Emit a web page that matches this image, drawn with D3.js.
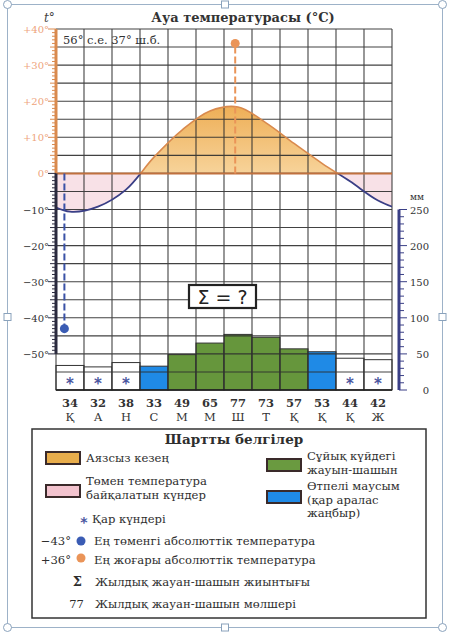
<!DOCTYPE html>
<html>
<head>
<meta charset="utf-8">
<script src="https://cdn.jsdelivr.net/npm/d3@7"></script>
<style>
  html, body { margin: 0; padding: 0; background: #fff; }
  svg { display: block; }
</style>
</head>
<body>
<svg id="chart" width="449" height="632"></svg>
<script>
// ========= Data =========
const months = ["Қ", "А", "Н", "С", "М", "М", "Ш", "Т", "Қ", "Қ", "Қ", "Ж"];
const temps = [-10.6, -9.2, -4.5, 4.5, 12, 17.3, 18.4, 14.0, 8.3, 2.8, -2.2, -7.5];
const precip = [34, 32, 38, 33, 49, 65, 77, 73, 57, 53, 44, 42];
// s = snow, m = mixed (transition), r = rain
const precipType = ["s", "s", "s", "m", "r", "r", "r", "r", "r", "m", "s", "s"];
const tempTicks = [40, 30, 20, 10, 0, -10, -20, -30, -40, -50];
const precipTicks = [0, 50, 100, 150, 200, 250];
const absMin = { value: -43, pos: 0.3 };   // pos = month position (0..12)
const absMax = { value: 36, pos: 6.4 };

const C = {
  grid: "#2e2e2e",
  navy: "#3a3f86",
  orange: "#d98a4e",
  orangeLbl: "#eea47c",
  zero: "#c0703e",
  green: "#66963c",
  blue: "#1f8ae6",
  pink: "#f3c9d4",
  blueDot: "#3a5cb4",
  orangeDot: "#ea9458"
};

// ========= Setup =========
const svg = d3.select("#chart");
const pL = 56, pR = 392, pT = 29, pB = 390;

const x = d3.scaleBand().domain(d3.range(12)).range([pL, pR]).padding(0);
const xPos = d3.scaleLinear().domain([0, 12]).range([pL, pR]);
const y = d3.scaleLinear().domain([-60, 40]).range([pB, pT]);
const yP = d3.scaleLinear().domain([0, 250]).range([pB, y(-10)]);

const defs = svg.append("defs");
const grad = defs.append("linearGradient").attr("id", "warm")
  .attr("gradientUnits", "userSpaceOnUse")
  .attr("x1", 0).attr("x2", 0).attr("y1", y(19)).attr("y2", y(0));
grad.append("stop").attr("offset", "0%").attr("stop-color", "#eeae55");
grad.append("stop").attr("offset", "100%").attr("stop-color", "#f7d39a");

defs.append("clipPath").attr("id", "clipPos").append("rect")
  .attr("x", pL).attr("y", pT).attr("width", pR - pL).attr("height", y(0) - pT);
defs.append("clipPath").attr("id", "clipNeg").append("rect")
  .attr("x", pL).attr("y", y(0)).attr("width", pR - pL).attr("height", pB - y(0));

// ========= Page frame (selection box) =========
svg.append("rect").attr("x", 7.5).attr("y", 4.5).attr("width", 435).attr("height", 623)
  .attr("fill", "none").attr("stroke", "#9db2c8").attr("stroke-width", 1);
[[7.5, 4.5], [442.5, 4.5], [7.5, 627.5], [442.5, 627.5]].forEach(([cx, cy]) =>
  svg.append("circle").attr("cx", cx).attr("cy", cy).attr("r", 4)
    .attr("fill", "#fff").attr("stroke", "#8aa2bc"));
[[7.5, 317], [442.5, 317], [225, 4.5], [225, 627.5]].forEach(([cx, cy]) =>
  svg.append("rect").attr("x", cx - 3.5).attr("y", cy - 3.5).attr("width", 7).attr("height", 7)
    .attr("fill", "#fff").attr("stroke", "#8aa2bc"));

// ========= Title =========
svg.append("text").attr("x", 243).attr("y", 22).attr("text-anchor", "middle")
  .attr("font-family", "DejaVu Serif").attr("font-weight", "bold").attr("font-size", 13)
  .attr("fill", "#333").text("Ауа температурасы (°C)");
svg.append("text").attr("x", 44).attr("y", 22)
  .attr("font-family", "DejaVu Serif").attr("font-style", "italic").attr("font-size", 12)
  .attr("fill", "#444").text("t°");

// ========= Temperature fills =========
const pts = temps.map((t, i) => [x(i) + x.bandwidth() / 2, t]);
const loop = [[x(0) - x.bandwidth() / 2, temps[11]], ...pts, [x(11) + x.bandwidth() * 1.5, temps[0]]];

const area = d3.area().x(d => d[0]).y0(y(0)).y1(d => y(d[1])).curve(d3.curveCatmullRom);
const line = d3.line().x(d => d[0]).y(d => y(d[1])).curve(d3.curveCatmullRom);

svg.append("path").datum(loop).attr("d", area).attr("fill", "url(#warm)")
  .attr("clip-path", "url(#clipPos)");
svg.append("path").datum(loop).attr("d", area).attr("fill", C.pink).attr("opacity", 0.55)
  .attr("clip-path", "url(#clipNeg)");

// ========= Precipitation bars =========
const fillFor = t => t === "r" ? C.green : t === "m" ? C.blue : "#fff";
svg.append("g").selectAll("rect")
  .data(precip.map((p, i) => ({ p, i, t: precipType[i] })))
  .join("rect")
  .attr("x", d => x(d.i))
  .attr("y", d => yP(d.p))
  .attr("width", x.bandwidth())
  .attr("height", d => pB - yP(d.p))
  .attr("fill", d => fillFor(d.t))
  .attr("stroke", "#333").attr("stroke-width", 1);

// ========= Grid =========
const grid = svg.append("g").attr("stroke", C.grid).attr("stroke-width", 1.1).attr("opacity", 0.9);
grid.selectAll("line.h").data(d3.range(40, -61, -5)).join("line")
  .attr("x1", pL).attr("x2", pR)
  .attr("y1", d => y(d)).attr("y2", d => y(d));
grid.selectAll("line.v").data(d3.range(13)).join("line")
  .attr("x1", d => xPos(d)).attr("x2", d => xPos(d))
  .attr("y1", pT).attr("y2", pB);
svg.append("line").attr("x1", pL).attr("x2", pR).attr("y1", pB).attr("y2", pB)
  .attr("stroke", "#222").attr("stroke-width", 1.6);

// ========= Temperature curve =========
svg.append("path").datum(loop).attr("d", line).attr("fill", "none")
  .attr("stroke", C.orange).attr("stroke-width", 1.6).attr("clip-path", "url(#clipPos)");
svg.append("path").datum(loop).attr("d", line).attr("fill", "none")
  .attr("stroke", C.navy).attr("stroke-width", 1.8).attr("clip-path", "url(#clipNeg)");

// zero line
svg.append("line").attr("x1", pL).attr("x2", pR).attr("y1", y(0)).attr("y2", y(0))
  .attr("stroke", C.zero).attr("stroke-width", 2);

// ========= Absolute extremes =========
svg.append("line").attr("x1", xPos(absMin.pos)).attr("x2", xPos(absMin.pos))
  .attr("y1", y(0)).attr("y2", y(absMin.value))
  .attr("stroke", "#3a52a6").attr("stroke-width", 2).attr("stroke-dasharray", "7,3");
svg.append("circle").attr("cx", xPos(absMin.pos)).attr("cy", y(absMin.value)).attr("r", 4.5)
  .attr("fill", C.blueDot);
svg.append("line").attr("x1", xPos(absMax.pos)).attr("x2", xPos(absMax.pos))
  .attr("y1", y(0)).attr("y2", y(absMax.value))
  .attr("stroke", C.orangeDot).attr("stroke-width", 2).attr("stroke-dasharray", "7,3");
svg.append("circle").attr("cx", xPos(absMax.pos)).attr("cy", y(absMax.value)).attr("r", 4.5)
  .attr("fill", C.orangeDot);

// ========= Coordinates label =========
svg.append("text").attr("x", 63).attr("y", 44)
  .attr("font-family", "DejaVu Serif").attr("font-size", 11.5).attr("fill", "#333")
  .text("56° с.е. 37° ш.б.");

// ========= Left axis =========
const ax = svg.append("g");
ax.append("line").attr("x1", pL).attr("x2", pL).attr("y1", pT).attr("y2", y(0))
  .attr("stroke", C.orange).attr("stroke-width", 3);
ax.append("line").attr("x1", pL).attr("x2", pL).attr("y1", y(0)).attr("y2", y(-50))
  .attr("stroke", "#2a2a3e").attr("stroke-width", 3);
ax.selectAll("line.t").data(d3.range(40, -51, -1)).join("line")
  .attr("x1", pL).attr("x2", d => pL - (d % 10 === 0 ? 8 : d % 5 === 0 ? 6 : 4))
  .attr("y1", d => y(d)).attr("y2", d => y(d))
  .attr("stroke", d => d > 0 ? C.orange : "#2a2a3e").attr("stroke-width", 1);
ax.selectAll("text").data(tempTicks).join("text")
  .attr("x", 49).attr("y", d => y(d) + 4).attr("text-anchor", "end")
  .attr("font-family", "DejaVu Serif").attr("font-size", 10)
  .attr("fill", d => d >= 0 ? C.orangeLbl : "#333")
  .text(d => (d > 0 ? "+" : d < 0 ? "−" : "") + Math.abs(d) + "°");

// ========= Right axis =========
const rx = 399;
const ra = svg.append("g");
ra.append("line").attr("x1", rx).attr("x2", rx).attr("y1", yP(250)).attr("y2", yP(0))
  .attr("stroke", C.navy).attr("stroke-width", 3);
ra.selectAll("line.t").data(d3.range(0, 251, 10)).join("line")
  .attr("x1", rx).attr("x2", d => rx + (d % 50 === 0 ? 8 : 5))
  .attr("y1", d => yP(d)).attr("y2", d => yP(d))
  .attr("stroke", C.navy).attr("stroke-width", 1);
ra.selectAll("text").data(precipTicks).join("text")
  .attr("x", 429).attr("y", d => yP(d) + 4).attr("text-anchor", "end")
  .attr("font-family", "DejaVu Serif").attr("font-size", 10).attr("fill", "#333")
  .text(d => d);
ra.append("text").attr("x", 417).attr("y", 200).attr("text-anchor", "middle")
  .attr("font-family", "DejaVu Serif").attr("font-size", 9).attr("fill", "#333").text("мм");

// ========= Snow stars & bottom labels =========
svg.append("g").selectAll("text")
  .data(precipType.map((t, i) => ({ t, i })).filter(d => d.t === "s"))
  .join("text")
  .attr("x", d => x(d.i) + x.bandwidth() / 2).attr("y", pB - 1)
  .attr("text-anchor", "middle").attr("font-family", "DejaVu Sans").attr("font-weight", "bold")
  .attr("font-size", 15).attr("fill", "#4a56a0").text("*");

svg.append("g").selectAll("text").data(precip).join("text")
  .attr("x", (d, i) => x(i) + x.bandwidth() / 2).attr("y", 407)
  .attr("text-anchor", "middle").attr("font-family", "DejaVu Serif").attr("font-weight", "bold")
  .attr("font-size", 11.5).attr("fill", "#333").text(d => d);
svg.append("g").selectAll("text").data(months).join("text")
  .attr("x", (d, i) => x(i) + x.bandwidth() / 2).attr("y", 421)
  .attr("text-anchor", "middle").attr("font-family", "DejaVu Serif")
  .attr("font-size", 11.5).attr("fill", "#333").text(d => d);

// ========= Σ box =========
svg.append("rect").attr("x", 189).attr("y", 285).attr("width", 67).attr("height", 23)
  .attr("fill", "#fff").attr("stroke", "#222").attr("stroke-width", 2.2);
svg.append("text").attr("x", 222.5).attr("y", 304).attr("text-anchor", "middle")
  .attr("font-family", "DejaVu Sans").attr("font-size", 19).attr("fill", "#222")
  .text("Σ = ?");

// ========= Legend =========
const lg = svg.append("g").attr("font-family", "DejaVu Serif").attr("font-size", 11.6).attr("fill", "#2e2e2e");
lg.append("rect").attr("x", 32).attr("y", 429).attr("width", 394).attr("height", 189)
  .attr("fill", "#fff").attr("stroke", "#333").attr("stroke-width", 1.5);
lg.append("text").attr("x", 234).attr("y", 444).attr("text-anchor", "middle")
  .attr("font-weight", "bold").attr("font-size", 13.5).text("Шартты белгілер");

const sw = (sx, sy, fill) => lg.append("rect").attr("x", sx).attr("y", sy).attr("width", 34)
  .attr("height", 12).attr("fill", fill).attr("stroke", "#3a2a2a").attr("stroke-width", 2);
sw(46, 452, "#e8ad4c");
sw(46, 485, "#f3c3ce");
sw(267, 459, "#6a9a40");
sw(267, 491, C.blue);

const txt = (tx, ty, s) => lg.append("text").attr("x", tx).attr("y", ty).text(s);
txt(86, 462, "Аязсыз кезең");
txt(86, 485, "Төмен температура");
txt(86, 499, "байқалатын күндер");
txt(307, 460, "Сұйық күйдегі");
txt(307, 473.5, "жауын-шашын");
txt(307, 490, "Өтпелі маусым");
txt(307, 503.5, "(қар аралас");
txt(307, 517, "жаңбыр)");

lg.append("text").attr("x", 84).attr("y", 527).attr("text-anchor", "middle")
  .attr("font-family", "DejaVu Sans").attr("font-weight", "bold").attr("font-size", 14)
  .attr("fill", "#4a56a0").text("*");
txt(92, 523, "Қар күндері");

lg.append("text").attr("x", 71).attr("y", 545).attr("text-anchor", "end")
  .text("−" + Math.abs(absMin.value) + "°");
lg.append("circle").attr("cx", 81).attr("cy", 541).attr("r", 4.5).attr("fill", C.blueDot);
txt(94, 545, "Ең төменгі абсолюттік температура");

lg.append("text").attr("x", 71).attr("y", 564).attr("text-anchor", "end")
  .text("+" + absMax.value + "°");
lg.append("circle").attr("cx", 81).attr("cy", 558).attr("r", 4.5).attr("fill", C.orangeDot);
txt(94, 564, "Ең жоғары абсолюттік температура");

lg.append("text").attr("x", 82).attr("y", 586).attr("text-anchor", "end")
  .attr("font-weight", "bold").attr("font-size", 13).text("Σ");
txt(95, 586, "Жылдық жауан-шашын жиынтығы");
lg.append("text").attr("x", 84).attr("y", 608).attr("text-anchor", "end")
  .text(precip[6]);
txt(95, 608, "Жылдық жауан-шашын мөлшері");
</script>
</body>
</html>
